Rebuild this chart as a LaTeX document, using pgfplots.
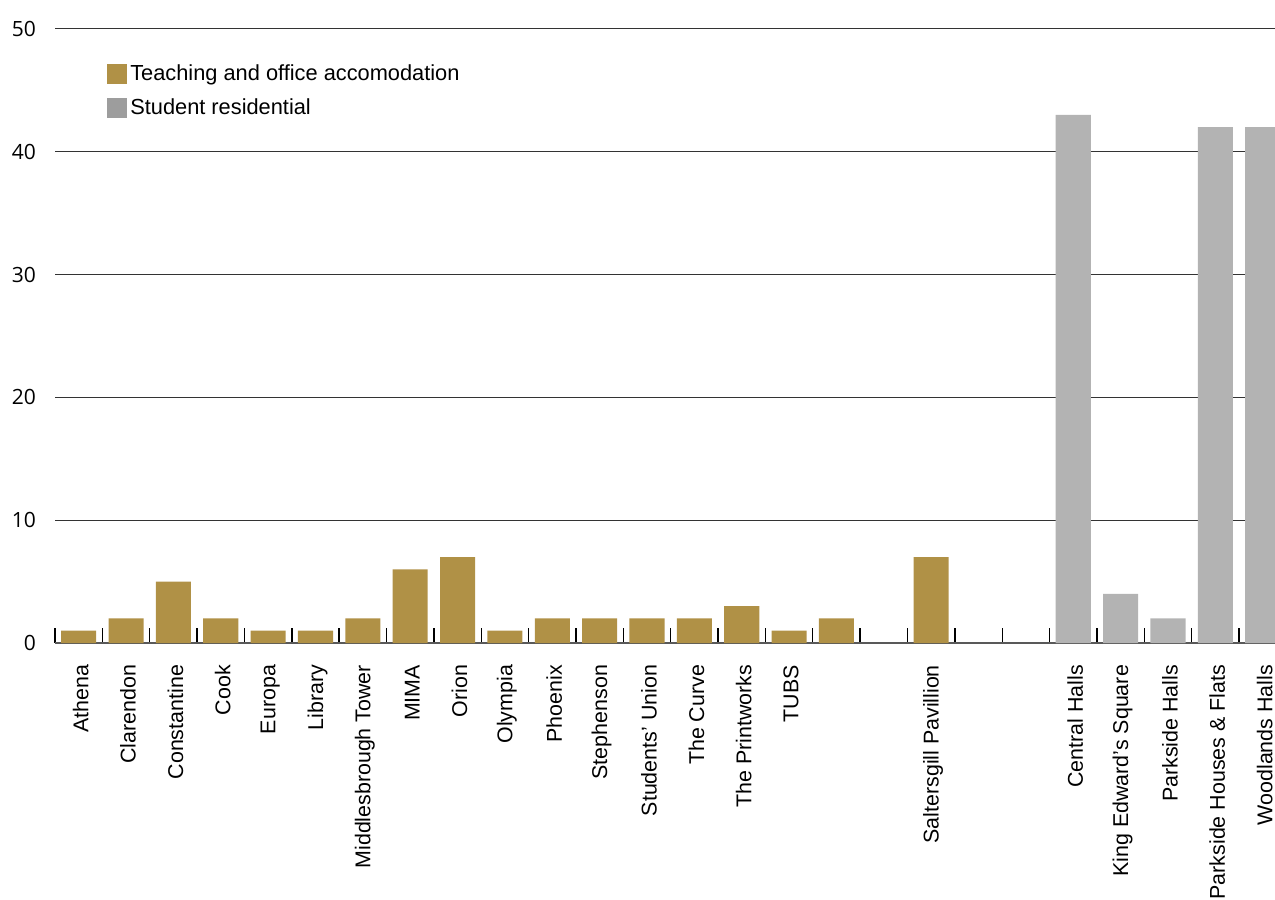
\documentclass[border=0pt]{standalone}
\usepackage{pgfplots}
\pgfplotsset{compat=1.18}
\usetikzlibrary{calc}
\usepackage{fontspec}
\setmainfont{Liberation Sans}
\newfontfamily\ynum{Open Sans}
\definecolor{gold}{HTML}{B09146}
\definecolor{resgray}{HTML}{B3B3B3}
\definecolor{leggray}{HTML}{9D9D9D}
\definecolor{gridc}{HTML}{333333}
\begin{document}
\begin{tikzpicture}
\begin{axis}[
  name=ax,
  scale only axis,
  width=610bp, height=307bp,
  xmin=-0.5, xmax=25.26,
  ymin=0, ymax=50,
  ytick={10,20,30,40,50},
  extra y ticks={0},
  extra y tick style={grid style={black!65, line width=1bp}},
  ymajorgrids,
  grid style={gridc, line width=0.5bp},
  axis line style={draw=none},
  xtick pos=left,
  xtick={0,...,25},
  xticklabels={Athena, Clarendon, Constantine, Cook, Europa, Library, Middlesbrough Tower, MIMA, Orion, Olympia, Phoenix, Stephenson, Students’ Union, The Curve, The Printworks, TUBS, {}, {}, Saltersgill Pavillion, {}, {}, Central Halls, King Edward’s Square, Parkside Halls, Parkside Houses \& Flats, Woodlands Halls},
  minor xtick={-0.5,0.5,...,24.5},
  major tick length=0pt,
  xtick align=outside,
  minor tick length=-7.5bp,
  minor x tick style={black, line width=0.7bp},
  major x tick style={draw=none},
  ytick style={draw=none},
  xticklabel style={rotate=90, anchor=east, font=\fontsize{10.7bp}{12.8bp}\selectfont, yshift=-1bp, xshift=-7.5bp},
  yticklabel style={font=\ynum\fontsize{10.5bp}{12.6bp}\selectfont, anchor=east, xshift=-6bp},
  /pgf/number format/assume math mode=true,
  ybar, bar width=0.74, bar shift=0pt,
  legend style={at={(0.037,0.955)}, anchor=north west, draw=none, fill=none,
    font=\fontsize{10.9bp}{13bp}\selectfont, row sep=3.5bp,
    /tikz/every even column/.append style={column sep=3.5bp}},
  legend cell align=left,
]
\addplot[fill=gold, draw=none, forget plot] coordinates {
 (0,1) (1,2) (2,5) (3,2) (4,1) (5,1) (6,2) (7,6) (8,7) (9,1)
 (10,2) (11,2) (12,2) (13,2) (14,3) (15,1) (16,2) (18,7)
};
\addplot[fill=resgray, draw=none, forget plot] coordinates {
 (21,43) (22,4) (23,2) (24,42) (25,42)
};
\addlegendimage{legend image code/.code={\fill[gold] (0bp,-4.75bp) rectangle (9.5bp,4.75bp);}}
\addlegendentry{Teaching and office accomodation}
\addlegendimage{legend image code/.code={\fill[leggray] (0bp,-4.75bp) rectangle (9.5bp,4.75bp);}}
\addlegendentry{Student residential}
\end{axis}
\pgfresetboundingbox
\path ($(ax.south west)+(-27.5bp,-128.5bp)$) rectangle ($(ax.north east)+(0bp,14.5bp)$);
\end{tikzpicture}
\end{document}
